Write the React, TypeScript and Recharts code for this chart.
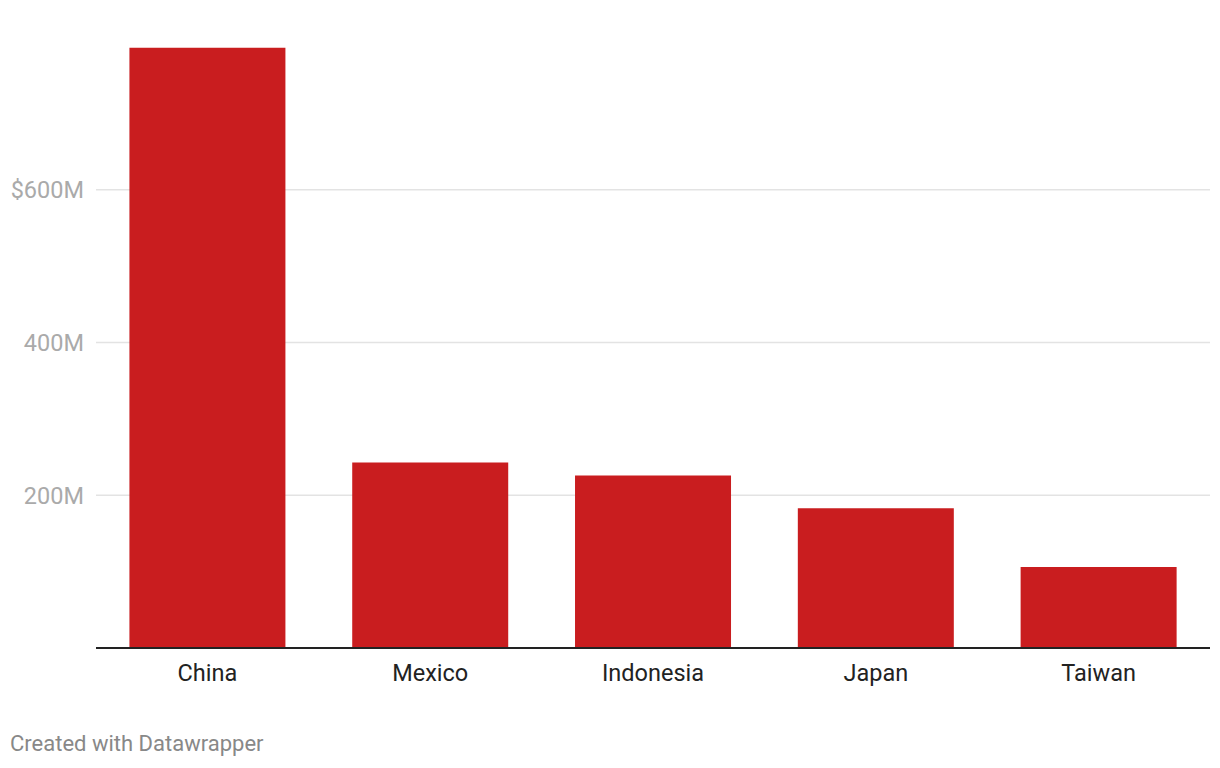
import { BarChart, Bar, XAxis, YAxis, CartesianGrid, ReferenceLine } from "recharts"

// Values in millions of dollars
const countries = ["China", "Mexico", "Indonesia", "Japan", "Taiwan"]
const values = [786, 243, 226, 183, 106]
const yTicks = [0, 200, 400, 600]
const gridValues = [200, 400, 600]

const data = countries.map((country, i) => ({ country, value: values[i] }))

const formatTick = (v: number) => {
  if (v === 0) return ""
  return v === 600 ? `$${v}M` : `${v}M`
}

export default function App() {
  return (
    <div
      style={{
        position: "absolute",
        left: 0,
        top: 0,
        width: 1220,
        height: 768,
        background: "#fff",
        fontFamily: "Roboto, sans-serif",
      }}
    >
      <BarChart
        width={1220}
        height={700}
        data={data}
        margin={{ top: 37, right: 10, bottom: 12, left: 0 }}
        barCategoryGap="15%"
      >
        <CartesianGrid vertical={false} horizontalValues={gridValues} stroke="#e3e3e3" strokeWidth={1.5} />
        <XAxis
          dataKey="country"
          tickLine={false}
          axisLine={false}
          tickSize={6}
          tickMargin={10}
          height={40}
          tick={{ fill: "#222", fontSize: 23.5, fontFamily: "Roboto" }}
        />
        <YAxis
          domain={[0, 800]}
          ticks={yTicks}
          tickFormatter={formatTick}
          width={96}
          tickLine={false}
          axisLine={false}
          tickSize={6}
          tickMargin={6}
          tick={{ fill: "#aaa", fontSize: 23.5, fontFamily: "Roboto" }}
        />
        <Bar dataKey="value" fill="#c91d1f" isAnimationActive={false} />
        <ReferenceLine y={0} stroke="#222" strokeWidth={2} />
      </BarChart>
      <div
        style={{
          position: "absolute",
          left: 10,
          top: 731,
          fontSize: 22,
          color: "#888",
          fontFamily: "Roboto",
        }}
      >
        Created with Datawrapper
      </div>
    </div>
  )
}
